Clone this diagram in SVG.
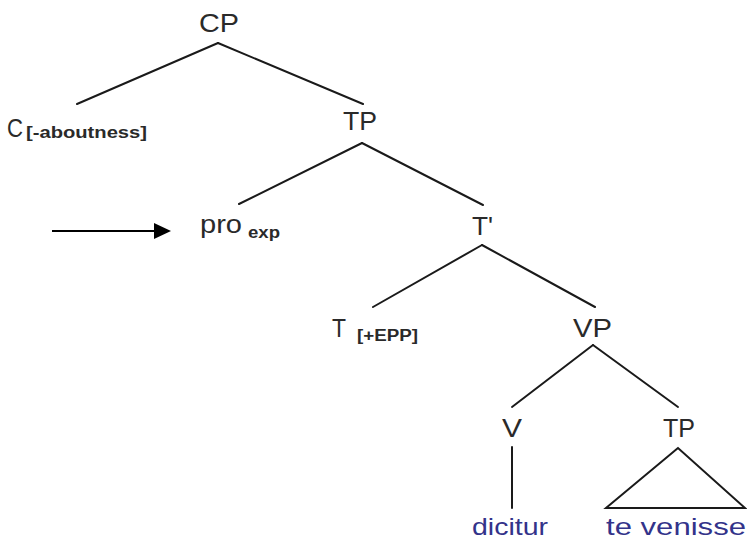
<svg xmlns="http://www.w3.org/2000/svg" width="747" height="540" viewBox="0 0 747 540">
  <defs>
    <style>
      .lbl { font-family: "Liberation Sans", Arial, sans-serif; font-size: 25px; fill: #2a2a2a; }
      .sub { font-family: "Liberation Sans", Arial, sans-serif; font-size: 16px; font-weight: bold; fill: #2a2a2a; }
      .word { font-family: "Liberation Sans", Arial, sans-serif; font-size: 24px; fill: #33338a; }
      .edge { stroke: #1a1a1a; stroke-width: 2; fill: none; stroke-linecap: round; }
    </style>
  </defs>
  <rect width="747" height="540" fill="#fff"/>

  <!-- tree branches and the pointer arrow -->
  <g id="connectors">
    <line class="edge" x1="218" y1="43" x2="77" y2="104"/>
    <line class="edge" x1="218" y1="43" x2="363" y2="104"/>
    <line class="edge" x1="362" y1="143" x2="239" y2="204"/>
    <line class="edge" x1="362" y1="143" x2="483" y2="205"/>
    <line class="edge" x1="482" y1="245" x2="373" y2="307"/>
    <line class="edge" x1="482" y1="245" x2="595" y2="307"/>
    <line class="edge" x1="593" y1="345" x2="512" y2="407"/>
    <line class="edge" x1="593" y1="345" x2="678" y2="407"/>
    <line class="edge" x1="512" y1="447" x2="512" y2="508"/>
    <path class="edge" d="M678,448 L606,508 L745,508 Z" stroke-linejoin="miter"/>
    <line x1="52" y1="231" x2="154" y2="231" stroke="#000" stroke-width="2"/>
    <path d="M154,223 L171,231 L154,239 Z" fill="#000"/>
  </g>

  <g id="cp"><text class="lbl" x="199" y="32" textLength="40" lengthAdjust="spacingAndGlyphs">CP</text></g>
  <g id="c">
    <text class="lbl" x="7" y="137" textLength="16" lengthAdjust="spacingAndGlyphs">C</text>
    <text class="sub" x="26" y="138" textLength="121" lengthAdjust="spacingAndGlyphs">[-aboutness]</text>
  </g>
  <g id="tp1"><text class="lbl" x="343" y="130" textLength="34" lengthAdjust="spacingAndGlyphs">TP</text></g>
  <g id="pro">
    <text class="lbl" x="200" y="233" textLength="42" lengthAdjust="spacingAndGlyphs">pro</text>
    <text class="sub" x="248" y="238" textLength="32" lengthAdjust="spacingAndGlyphs">exp</text>
  </g>
  <g id="tbar"><text class="lbl" x="472" y="235" textLength="21" lengthAdjust="spacingAndGlyphs">T'</text></g>
  <g id="t">
    <text class="lbl" x="332" y="337" textLength="14" lengthAdjust="spacingAndGlyphs">T</text>
    <text class="sub" x="357" y="341" textLength="61" lengthAdjust="spacingAndGlyphs">[+EPP]</text>
  </g>
  <g id="vp"><text class="lbl" x="573" y="337" textLength="39" lengthAdjust="spacingAndGlyphs">VP</text></g>
  <g id="v"><text class="lbl" x="502" y="437" textLength="20" lengthAdjust="spacingAndGlyphs">V</text></g>
  <g id="tp2"><text class="lbl" x="663" y="437" textLength="32" lengthAdjust="spacingAndGlyphs">TP</text></g>
  <g id="dicitur"><text class="word" x="472" y="535" textLength="76" lengthAdjust="spacingAndGlyphs">dicitur</text></g>
  <g id="te-venisse"><text class="word" x="606" y="535" textLength="140" lengthAdjust="spacingAndGlyphs">te venisse</text></g>
</svg>
